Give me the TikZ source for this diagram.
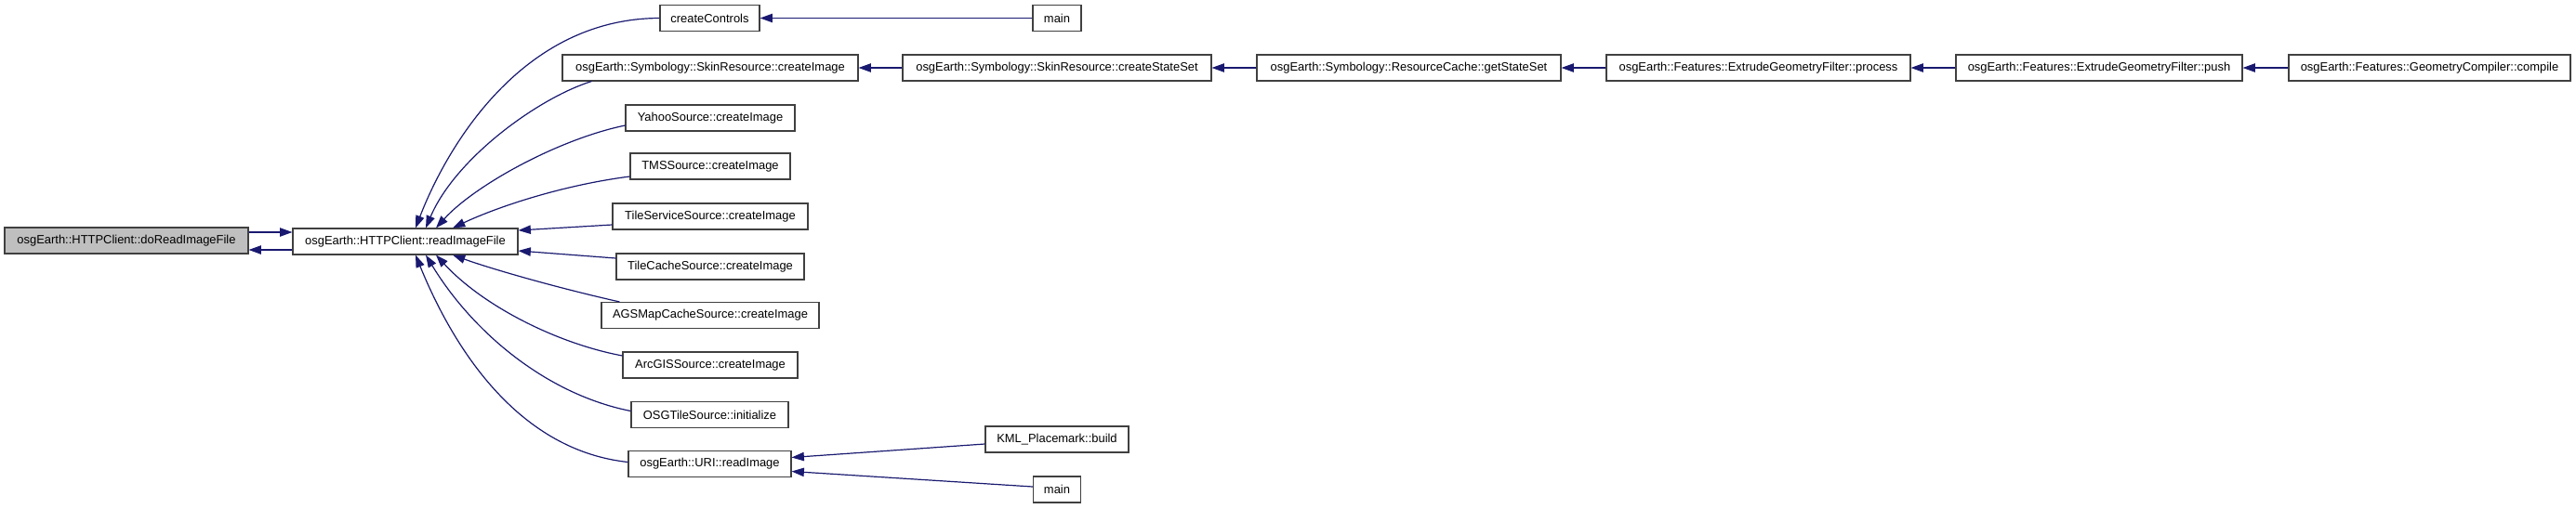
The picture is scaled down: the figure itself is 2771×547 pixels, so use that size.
\documentclass[tikz,border=0pt]{standalone}
\usepackage{fontspec}
\setmainfont{Liberation Sans}
\usetikzlibrary{arrows.meta, positioning, calc}
\definecolor{edgeblue}{HTML}{191970}
\definecolor{boxgray}{HTML}{BFBFBF}
\tikzset{
	fn/.style={draw=black!75, line width=0.8pt, fill=white, minimum height=21pt, inner sep=0pt, font=\fontsize{9.7}{11}\selectfont},
	curfn/.style={fn, fill=boxgray},
	wd/.style={minimum width=#1*0.75pt},
	arrow/.style={draw=edgeblue, line width=0.9pt, -{Triangle[length=10pt,width=7pt]}}
}

\begin{document}
\begin{tikzpicture}[x=0.75pt,y=-0.75pt]
			\useasboundingbox (0,0) rectangle (2771,547);
			% Nodes
			\node (dorif) [curfn, wd=262] at (136,259) {osgEarth::HTTPClient::doReadImageFile};
			\node (rif) [fn, wd=242] at (436,260) {osgEarth::HTTPClient::readImageFile};
			\node (cc) [fn, wd=107] at (763.5,19.5) {createControls};
			\node (main1) [fn, wd=52] at (1137,19.5) {main};
			\node (skinimg) [fn, wd=318] at (764,73) {osgEarth::Symbology::SkinResource::createImage};
			\node (skinss) [fn, wd=332] at (1137,73) {osgEarth::Symbology::SkinResource::createStateSet};
			\node (getss) [fn, wd=327] at (1515.5,73) {osgEarth::Symbology::ResourceCache::getStateSet};
			\node (process) [fn, wd=327] at (1891.5,73) {osgEarth::Features::ExtrudeGeometryFilter::process};
			\node (push) [fn, wd=308] at (2258,73) {osgEarth::Features::ExtrudeGeometryFilter::push};
			\node (compile) [fn, wd=303] at (2613.5,73) {osgEarth::Features::GeometryCompiler::compile};
			\node (yahoo) [fn, wd=182] at (764,127) {YahooSource::createImage};
			\node (tms) [fn, wd=172] at (764,179) {TMSSource::createImage};
			\node (tileserv) [fn, wd=210] at (764,233) {TileServiceSource::createImage};
			\node (tilecache) [fn, wd=202] at (764,287) {TileCacheSource::createImage};
			\node (ags) [fn, wd=234] at (764,339.5) {AGSMapCacheSource::createImage};
			\node (arcgis) [fn, wd=188] at (764,393) {ArcGISSource::createImage};
			\node (osgtile) [fn, wd=169] at (763.5,446.5) {OSGTileSource::initialize};
			\node (uri) [fn, wd=175] at (763.5,499.5) {osgEarth::URI::readImage};
			\node (kml) [fn, wd=154] at (1137,473) {KML\_Placemark::build};
			\node (main2) [fn, wd=51] at (1137,527) {main};

			% Arrows
			\draw [arrow] ($(dorif.east)+(0,-9)$) -- ($(rif.west)+(0,-10)$);
			\draw [arrow] ($(rif.west)+(0,9)$) -- ($(dorif.east)+(0,10)$);
			\draw [arrow] (main1) -- (cc);
			\draw [arrow] (skinss) -- (skinimg);
			\draw [arrow] (getss) -- (skinss);
			\draw [arrow] (process) -- (getss);
			\draw [arrow] (push) -- (process);
			\draw [arrow] (compile) -- (push);
			\draw [arrow] (cc.west) .. controls (560,20) and (480,160) .. ($(rif.north)+(11,0)$);
			\draw [arrow] ($(skinimg.south west)+(32,0)$) .. controls (580,105) and (490,170) .. ($(rif.north)+(22,0)$);
			\draw [arrow] ($(yahoo.west)+(0,8)$) .. controls (600,150) and (510,200) .. ($(rif.north)+(33,0)$);
			\draw [arrow] ($(tms.west)+(0,11)$) .. controls (600,200) and (530,225) .. ($(rif.north)+(51,0)$);
			\draw [arrow] ($(tileserv.west)+(0,9)$) -- ($(rif.east)+(0,-12)$);
			\draw [arrow] ($(tilecache.west)+(0,-9)$) -- ($(rif.east)+(0,10)$);
			\draw [arrow] ($(ags.north west)+(20,0)$) .. controls (600,310) and (530,290) .. ($(rif.south)+(51,0)$);
			\draw [arrow] ($(arcgis.west)+(0,-10)$) .. controls (600,370) and (520,330) .. ($(rif.south)+(33,0)$);
			\draw [arrow] ($(osgtile.west)+(0,-4)$) .. controls (590,425) and (510,360) .. ($(rif.south)+(22,0)$);
			\draw [arrow] ($(uri.west)+(0,-2)$) .. controls (560,485) and (490,380) .. ($(rif.south)+(11,0)$);
			\draw [arrow] ($(kml.west)+(0,5)$) -- ($(uri.east)+(0,-7)$);
			\draw [arrow] ($(main2.west)+(0,-3)$) -- ($(uri.east)+(0,8)$);
		\end{tikzpicture}
\end{document}
